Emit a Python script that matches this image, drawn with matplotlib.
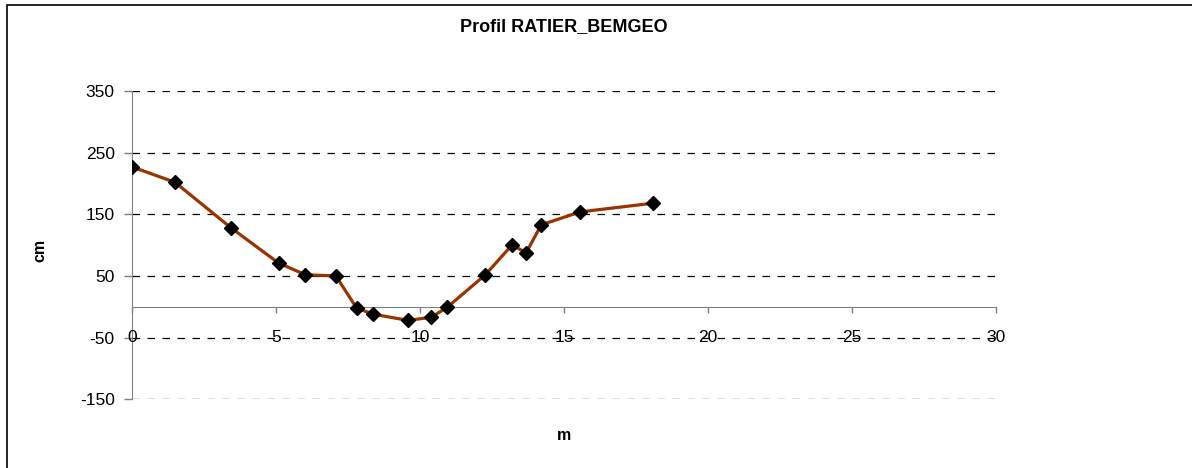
import matplotlib.pyplot as plt
from matplotlib.patches import Rectangle

# Profil RATIER_BEMGEO : distance (m) / cote (cm)
distance_m = [0.0, 1.49, 3.44, 5.09, 6.02, 7.08, 7.80, 8.38, 9.58, 10.39,
              10.94, 12.27, 13.19, 13.69, 14.21, 15.57, 18.09]
cote_cm = [227, 202, 128, 71, 52, 50, -2, -12, -22, -17,
           -1, 52, 100, 88, 133, 154, 168]

x_ticks = [0, 5, 10, 15, 20, 25, 30]
y_ticks = [-150, -50, 50, 150, 250, 350]

plt.rcParams['font.family'] = ['Liberation Sans', 'DejaVu Sans']
plt.rcParams['axes.unicode_minus'] = False

fig = plt.figure(figsize=(11.92, 4.68), dpi=100)
ax = fig.add_axes([132 / 1192, 68.7 / 468, 864 / 1192, 308.3 / 468])

# cadre extérieur (seuls les bords haut et gauche sont visibles)
fig.patches.append(Rectangle((7 / 1192, -0.1), 1.2, (463 / 468) + 0.1,
                             transform=fig.transFigure, fill=False,
                             edgecolor='black', linewidth=1.2))

for v in y_ticks:
    ax.axhline(v, color='black', linewidth=0.9, linestyle=(0, (6, 6)), zorder=1)

ax.plot(distance_m, cote_cm, color='#993300', linewidth=2.3, zorder=3)
ax.plot(distance_m, cote_cm, linestyle='none', marker='D', markersize=7.5,
        color='black', zorder=4)

ax.set_xlim(0, 30)
ax.set_ylim(-150, 350)

for side in ['top', 'right']:
    ax.spines[side].set_visible(False)
ax.spines['bottom'].set_position(('data', 0))
ax.spines['bottom'].set_color('#808080')
ax.spines['left'].set_color('#808080')
ax.spines['bottom'].set_zorder(2)

ax.set_yticks(y_ticks)
ax.set_xticks(x_ticks)
ax.tick_params(axis='y', direction='out', length=5.5, width=1, color='#808080',
               pad=7, labelsize=12.5)
ax.tick_params(axis='x', direction='out', length=4, width=1, color='#808080',
               labelbottom=False)

# étiquettes de l'axe x placées au niveau de -50, comme dans Excel
for v in x_ticks:
    ax.text(v, -50, str(v), ha='center', va='center', fontsize=12.5, zorder=5)

fig.text(564 / 1192, 1 - 435 / 468, 'm', ha='center', va='center',
         fontsize=11.5, fontweight='bold')
fig.text(40 / 1192, 1 - 250 / 468, 'cm', rotation=90, ha='center', va='center',
         fontsize=11.5, fontweight='bold')
fig.text(564 / 1192, 1 - 27 / 468, 'Profil RATIER_BEMGEO', ha='center',
         va='center', fontsize=13, fontweight='bold')

fig.savefig('out.png', dpi=100)
